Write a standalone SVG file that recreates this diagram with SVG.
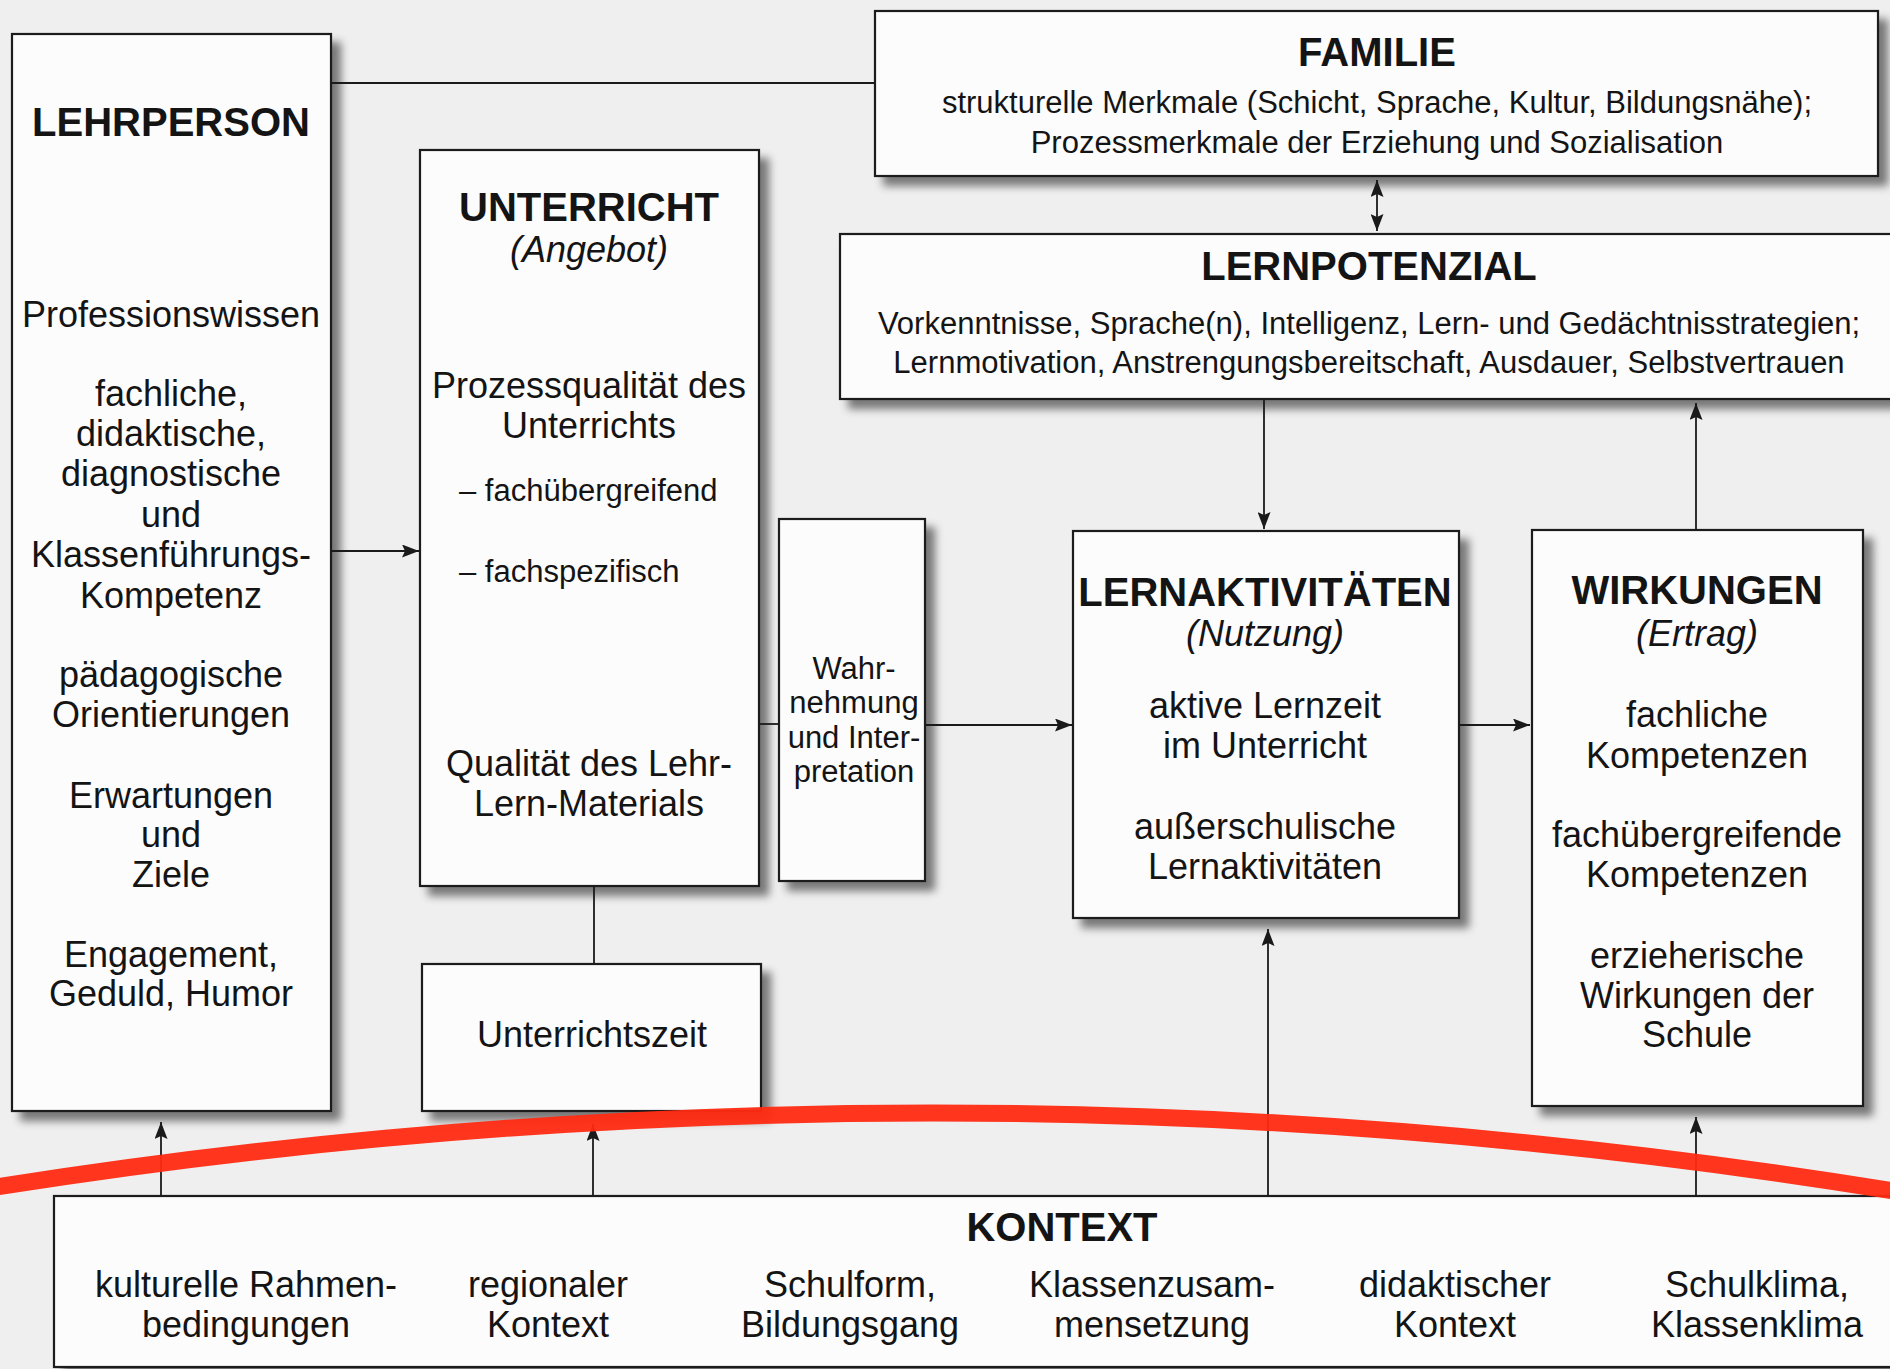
<svg xmlns="http://www.w3.org/2000/svg" width="1890" height="1369" viewBox="0 0 1890 1369">
<defs>
<style>
.box{fill:#fcfcfc;stroke:#1a1a1a;stroke-width:2.2}
.t{font-family:"Liberation Sans",Arial,Helvetica,sans-serif;fill:#141414;text-anchor:middle}
.h{font-size:40px;font-weight:bold}
.b{font-size:36px}
.s{font-size:31px}
.i{font-style:italic}
.st{text-anchor:start}
.c{stroke:#1a1a1a;stroke-width:1.8;fill:none}
.a{marker-end:url(#ah)}
</style>
<marker id="ah" viewBox="0 0 17 13" refX="17" refY="6.5" markerWidth="17" markerHeight="13" markerUnits="userSpaceOnUse" orient="auto-start-reverse">
<path d="M0,0 L17,6.5 L0,13 L3,6.5 z" fill="#1a1a1a"/>
</marker>
<filter id="sh" x="-10%" y="-10%" width="125%" height="125%">
<feGaussianBlur in="SourceAlpha" stdDeviation="4"/>
<feOffset dx="9" dy="9" result="o"/>
<feComponentTransfer in="o" result="s"><feFuncA type="linear" slope="0.5"/></feComponentTransfer>
<feMerge><feMergeNode in="s"/><feMergeNode in="SourceGraphic"/></feMerge>
</filter>
</defs>
<rect x="0" y="0" width="1890" height="1369" fill="#efefef"/>

<g id="lehrperson">
<rect class="box" x="12" y="34" width="319" height="1077" filter="url(#sh)"/>
<text class="t h" x="171" y="136">LEHRPERSON</text>
<text class="t b" x="171" y="327">Professionswissen</text>
<text class="t b" x="171" y="406">fachliche,</text>
<text class="t b" x="171" y="446">didaktische,</text>
<text class="t b" x="171" y="486">diagnostische</text>
<text class="t b" x="171" y="527">und</text>
<text class="t b" x="171" y="567">Klassenführungs-</text>
<text class="t b" x="171" y="608">Kompetenz</text>
<text class="t b" x="171" y="687">pädagogische</text>
<text class="t b" x="171" y="727">Orientierungen</text>
<text class="t b" x="171" y="808">Erwartungen</text>
<text class="t b" x="171" y="847">und</text>
<text class="t b" x="171" y="887">Ziele</text>
<text class="t b" x="171" y="967">Engagement,</text>
<text class="t b" x="171" y="1006">Geduld, Humor</text>
</g>

<g id="familie">
<rect class="box" x="875" y="11" width="1003" height="165" filter="url(#sh)"/>
<text class="t h" x="1377" y="66">FAMILIE</text>
<text class="t s" x="1377" y="113">strukturelle Merkmale (Schicht, Sprache, Kultur, Bildungsnähe);</text>
<text class="t s" x="1377" y="153">Prozessmerkmale der Erziehung und Sozialisation</text>
</g>

<g id="lernpotenzial">
<rect class="box" x="840" y="234" width="1070" height="165" filter="url(#sh)"/>
<text class="t h" x="1369" y="280">LERNPOTENZIAL</text>
<text class="t s" x="1369" y="334">Vorkenntnisse, Sprache(n), Intelligenz, Lern- und Gedächtnisstrategien;</text>
<text class="t s" x="1369" y="373">Lernmotivation, Anstrengungsbereitschaft, Ausdauer, Selbstvertrauen</text>
</g>

<g id="unterricht">
<rect class="box" x="420" y="150" width="339" height="736" filter="url(#sh)"/>
<text class="t h" x="589" y="221">UNTERRICHT</text>
<text class="t b i" x="589" y="262">(Angebot)</text>
<text class="t b" x="589" y="398">Prozessqualität des</text>
<text class="t b" x="589" y="438">Unterrichts</text>
<text class="t s st" x="459" y="501">– fachübergreifend</text>
<text class="t s st" x="459" y="582">– fachspezifisch</text>
<text class="t b" x="589" y="776">Qualität des Lehr-</text>
<text class="t b" x="589" y="816">Lern-Materials</text>
</g>

<g id="wahrnehmung">
<rect class="box" x="779" y="519" width="146" height="362" filter="url(#sh)"/>
<text class="t s" x="854" y="679">Wahr-</text>
<text class="t s" x="854" y="713">nehmung</text>
<text class="t s" x="854" y="748">und Inter-</text>
<text class="t s" x="854" y="782">pretation</text>
</g>

<g id="unterrichtszeit">
<rect class="box" x="422" y="964" width="339" height="147" filter="url(#sh)"/>
<text class="t b" x="592" y="1047">Unterrichtszeit</text>
</g>

<g id="lernaktivitaeten">
<rect class="box" x="1073" y="531" width="386" height="387" filter="url(#sh)"/>
<text class="t h" x="1265" y="606">LERNAKTIVITÄTEN</text>
<text class="t b i" x="1265" y="646">(Nutzung)</text>
<text class="t b" x="1265" y="718">aktive Lernzeit</text>
<text class="t b" x="1265" y="758">im Unterricht</text>
<text class="t b" x="1265" y="839">außerschulische</text>
<text class="t b" x="1265" y="879">Lernaktivitäten</text>
</g>

<g id="wirkungen">
<rect class="box" x="1532" y="530" width="331" height="576" filter="url(#sh)"/>
<text class="t h" x="1697" y="604">WIRKUNGEN</text>
<text class="t b i" x="1697" y="646">(Ertrag)</text>
<text class="t b" x="1697" y="727">fachliche</text>
<text class="t b" x="1697" y="768">Kompetenzen</text>
<text class="t b" x="1697" y="847">fachübergreifende</text>
<text class="t b" x="1697" y="887">Kompetenzen</text>
<text class="t b" x="1697" y="968">erzieherische</text>
<text class="t b" x="1697" y="1008">Wirkungen der</text>
<text class="t b" x="1697" y="1047">Schule</text>
</g>

<g id="kontext">
<rect class="box" x="54" y="1196" width="1860" height="171" filter="url(#sh)"/>
<text class="t h" x="1062" y="1241">KONTEXT</text>
<text class="t b" x="246" y="1297">kulturelle Rahmen-</text>
<text class="t b" x="246" y="1337">bedingungen</text>
<text class="t b" x="548" y="1297">regionaler</text>
<text class="t b" x="548" y="1337">Kontext</text>
<text class="t b" x="850" y="1297">Schulform,</text>
<text class="t b" x="850" y="1337">Bildungsgang</text>
<text class="t b" x="1152" y="1297">Klassenzusam-</text>
<text class="t b" x="1152" y="1337">mensetzung</text>
<text class="t b" x="1455" y="1297">didaktischer</text>
<text class="t b" x="1455" y="1337">Kontext</text>
<text class="t b" x="1757" y="1297">Schulklima,</text>
<text class="t b" x="1757" y="1337">Klassenklima</text>
</g>

<g id="connectors">
<path class="c" d="M331,83 H875"/>
<path class="c a" d="M331,551 H419"/>
<path class="c" d="M759,724 H779"/>
<path class="c" d="M594,886 V964"/>
<path class="c a" d="M925,725 H1072"/>
<path class="c a" d="M1459,725 H1530"/>
<path class="c a" d="M1377,180 V231" style="marker-start:url(#ah)"/>
<path class="c a" d="M1264,400 V529"/>
<path class="c a" d="M1696,530 V403"/>
<path class="c a" d="M161,1196 V1122"/>
<path class="c a" d="M593,1196 V1124"/>
<path class="c a" d="M1268,1196 V929"/>
<path class="c a" d="M1696,1196 V1117"/>
</g>

<path d="M-10,1188 Q945,1036 1900,1192" fill="none" stroke="#ff2a12" stroke-width="17" stroke-linecap="round" opacity="0.95"/>
</svg>
